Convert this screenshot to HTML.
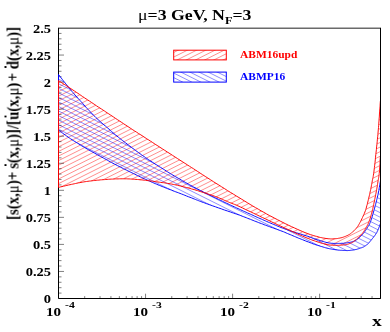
<!DOCTYPE html><html><head><meta charset="utf-8"><style>
html,body{margin:0;padding:0;background:#fff;}
#c{position:relative;width:390px;height:332px;overflow:hidden;background:#fff;font-family:"Liberation Serif",serif;font-weight:bold;color:#000;}
.t{position:absolute;white-space:nowrap;line-height:1;will-change:transform;}
.yl{font-size:12.5px;text-align:right;width:40px;left:10.8px;transform-origin:100% 50%;transform:scaleX(1.155);}
.xl{font-size:12.5px;transform-origin:0 50%;transform:scaleX(1.2);}
.xe{font-size:9px;transform-origin:0 50%;transform:scaleX(1.3);}
.ob{position:relative;display:inline-block;}.ob i{position:absolute;left:38%;top:-1.4px;width:2px;height:2px;background:#000;}
</style></head><body><div id="c">
<svg width="390" height="332" viewBox="0 0 390 332" style="position:absolute;left:0;top:0">
<defs><clipPath id="cr"><polygon points="58.5,80.6 59.6,81.3 61.1,82.3 62.9,83.5 64.9,84.7 67.0,86.1 69.1,87.5 71.1,88.8 72.9,90.0 74.6,91.1 76.2,92.2 77.9,93.3 79.5,94.4 81.1,95.5 82.7,96.6 84.3,97.7 86.0,98.8 87.7,99.9 89.5,101.1 91.3,102.3 93.1,103.5 94.9,104.7 96.6,105.9 98.3,107.0 100.0,108.1 101.6,109.1 103.0,110.1 104.5,111.0 105.9,112.0 107.3,112.9 108.8,113.9 110.3,114.9 112.0,116.0 113.8,117.2 115.7,118.5 117.7,119.8 119.7,121.1 121.8,122.5 123.8,123.9 125.9,125.2 128.0,126.6 130.1,128.0 132.2,129.4 134.4,130.8 136.6,132.2 138.7,133.6 140.9,134.9 143.0,136.3 145.0,137.6 146.9,138.9 148.8,140.0 150.6,141.2 152.3,142.3 154.1,143.5 155.9,144.7 157.9,145.9 160.0,147.3 162.3,148.8 164.8,150.4 167.3,152.0 170.0,153.7 172.6,155.4 175.2,157.1 177.7,158.7 180.0,160.2 182.1,161.5 184.1,162.8 185.9,163.9 187.7,165.1 189.4,166.2 191.3,167.4 193.3,168.6 195.4,170.0 197.7,171.5 200.1,173.1 202.6,174.7 205.2,176.4 207.9,178.1 210.6,179.8 213.3,181.6 216.0,183.3 218.8,185.0 221.6,186.8 224.5,188.6 227.4,190.5 230.3,192.3 233.3,194.1 236.2,195.9 239.0,197.6 241.8,199.3 244.6,201.0 247.3,202.7 250.1,204.4 252.8,206.0 255.5,207.6 258.3,209.2 261.0,210.8 263.8,212.3 266.5,213.9 269.2,215.4 272.0,216.8 274.8,218.3 277.5,219.7 280.2,221.1 283.0,222.5 285.8,223.9 288.7,225.3 291.6,226.7 294.6,228.0 297.4,229.3 300.1,230.5 302.7,231.6 305.0,232.6 307.1,233.4 309.0,234.1 310.7,234.7 312.3,235.2 313.8,235.7 315.2,236.1 316.6,236.4 318.0,236.8 319.3,237.2 320.6,237.5 321.8,237.7 322.9,238.0 323.9,238.1 325.0,238.3 326.0,238.5 327.0,238.6 328.0,238.7 328.9,238.8 329.8,238.8 330.6,238.9 331.5,238.9 332.3,238.9 333.1,238.8 334.0,238.8 334.9,238.7 335.8,238.7 336.6,238.6 337.5,238.5 338.4,238.3 339.2,238.2 340.1,238.0 341.0,237.8 341.9,237.6 342.8,237.3 343.7,237.0 344.7,236.6 345.6,236.3 346.4,235.9 347.2,235.6 348.0,235.2 348.7,234.8 349.3,234.5 349.9,234.1 350.5,233.7 351.0,233.3 351.6,232.9 352.1,232.4 352.6,232.0 353.1,231.5 353.6,231.1 354.1,230.6 354.6,230.1 355.1,229.6 355.6,229.1 356.0,228.6 356.5,228.0 356.9,227.4 357.4,226.8 357.8,226.3 358.2,225.7 358.6,225.0 359.0,224.3 359.5,223.4 360.0,222.5 360.6,221.4 361.2,220.2 361.8,218.9 362.5,217.5 363.1,216.1 363.8,214.7 364.4,213.3 364.9,212.0 365.4,210.7 365.8,209.5 366.2,208.2 366.5,207.0 366.8,205.7 367.2,204.5 367.5,203.2 367.8,202.0 368.1,200.8 368.4,199.5 368.7,198.2 369.0,197.0 369.3,195.8 369.6,194.5 369.9,193.2 370.1,192.0 370.4,190.8 370.7,189.5 370.9,188.2 371.2,187.0 371.4,185.8 371.6,184.5 371.9,183.2 372.1,182.0 372.3,180.8 372.5,179.7 372.7,178.7 373.0,177.6 373.2,176.5 373.4,175.2 373.6,173.7 373.9,172.0 374.1,170.0 374.4,167.7 374.7,165.2 375.0,162.6 375.3,159.9 375.5,157.2 375.8,154.6 376.1,152.0 376.4,149.5 376.6,146.9 376.9,144.4 377.2,141.8 377.4,139.3 377.7,136.8 377.9,134.4 378.1,132.0 378.3,129.7 378.5,127.5 378.7,125.3 378.8,123.1 379.0,121.0 379.1,119.0 379.3,117.0 379.4,115.0 379.5,113.0 379.7,111.0 379.8,108.9 380.0,106.9 380.1,105.1 380.2,103.4 380.3,102.1 380.4,101.0 380.4,156.0 380.3,157.3 380.2,159.0 380.1,161.1 380.0,163.4 379.9,165.7 379.7,168.0 379.6,170.2 379.4,172.0 379.2,173.5 379.1,174.9 378.9,176.2 378.7,177.4 378.5,178.5 378.3,179.6 378.1,180.8 377.9,182.0 377.7,183.2 377.5,184.5 377.3,185.8 377.1,187.0 376.9,188.2 376.7,189.5 376.4,190.8 376.2,192.0 376.0,193.2 375.7,194.5 375.5,195.8 375.2,197.0 375.0,198.2 374.7,199.5 374.5,200.8 374.2,202.0 373.9,203.3 373.7,204.5 373.4,205.8 373.1,207.1 372.9,208.3 372.6,209.6 372.3,210.8 372.0,212.0 371.7,213.2 371.3,214.4 371.0,215.7 370.6,216.9 370.3,218.0 369.9,219.2 369.5,220.2 369.2,221.2 368.9,222.1 368.5,222.9 368.2,223.7 367.9,224.4 367.5,225.0 367.2,225.7 366.9,226.3 366.5,227.0 366.1,227.7 365.8,228.3 365.4,229.0 365.0,229.6 364.6,230.2 364.2,230.8 363.8,231.4 363.4,232.0 363.0,232.6 362.6,233.1 362.2,233.6 361.7,234.1 361.3,234.6 360.9,235.1 360.4,235.5 360.0,236.0 359.6,236.4 359.1,236.9 358.7,237.3 358.3,237.7 357.8,238.1 357.4,238.4 356.9,238.8 356.5,239.2 356.1,239.6 355.6,240.0 355.2,240.3 354.8,240.7 354.3,241.0 353.9,241.4 353.5,241.7 353.0,242.0 352.5,242.3 352.0,242.5 351.5,242.8 351.0,243.0 350.5,243.2 350.0,243.4 349.5,243.6 349.0,243.8 348.5,244.0 348.0,244.1 347.5,244.3 347.1,244.4 346.6,244.5 346.1,244.6 345.5,244.7 345.0,244.8 344.4,244.9 343.8,244.9 343.2,245.0 342.6,245.1 342.0,245.1 341.3,245.1 340.7,245.2 340.0,245.2 339.3,245.2 338.6,245.3 337.9,245.3 337.1,245.3 336.4,245.3 335.6,245.3 334.8,245.3 334.0,245.3 333.2,245.3 332.4,245.2 331.6,245.2 330.8,245.1 329.9,245.1 329.0,244.9 328.0,244.8 327.0,244.6 325.9,244.4 324.8,244.1 323.6,243.7 322.3,243.4 321.0,243.0 319.7,242.6 318.4,242.2 317.0,241.7 315.7,241.3 314.4,240.8 313.1,240.4 311.8,239.9 310.3,239.4 308.8,238.7 307.0,238.0 305.0,237.2 302.7,236.2 300.2,235.1 297.5,233.9 294.7,232.6 291.8,231.3 288.8,229.9 285.9,228.5 283.0,227.2 280.1,225.9 277.2,224.5 274.2,223.1 271.2,221.7 268.2,220.2 265.3,218.8 262.4,217.5 259.5,216.1 256.6,214.7 253.7,213.3 250.8,211.9 247.9,210.6 245.2,209.3 242.6,208.0 240.2,206.9 238.0,205.9 236.2,205.1 234.6,204.4 233.2,203.9 232.0,203.4 230.9,203.0 229.8,202.6 228.6,202.1 227.4,201.6 226.1,201.0 224.8,200.5 223.6,199.9 222.3,199.3 221.0,198.8 219.7,198.2 218.4,197.6 217.0,197.1 215.6,196.6 214.1,196.0 212.6,195.5 211.1,195.0 209.6,194.5 208.0,194.0 206.5,193.5 205.0,193.0 203.5,192.5 202.0,192.0 200.5,191.6 199.0,191.1 197.5,190.6 196.0,190.2 194.5,189.7 193.0,189.3 191.5,188.9 189.9,188.4 188.3,188.0 186.7,187.6 185.1,187.2 183.6,186.8 182.0,186.4 180.5,186.0 179.0,185.7 177.5,185.3 176.1,185.0 174.7,184.7 173.2,184.4 171.8,184.1 170.4,183.9 169.0,183.6 167.6,183.4 166.2,183.1 164.8,182.9 163.5,182.7 162.1,182.6 160.7,182.4 159.4,182.2 158.0,182.0 156.6,181.8 155.2,181.6 153.9,181.4 152.5,181.2 151.1,181.0 149.8,180.8 148.4,180.7 147.0,180.5 145.6,180.3 144.2,180.2 142.9,180.0 141.5,179.9 140.1,179.8 138.8,179.6 137.4,179.5 136.0,179.4 134.6,179.3 133.2,179.2 131.9,179.1 130.5,179.0 129.1,178.9 127.8,178.9 126.4,178.8 125.0,178.8 123.6,178.8 122.2,178.8 120.9,178.8 119.5,178.8 118.1,178.9 116.8,178.9 115.4,178.9 114.0,179.0 112.6,179.1 111.2,179.1 109.9,179.2 108.5,179.3 107.1,179.4 105.8,179.5 104.4,179.6 103.0,179.7 101.6,179.8 100.2,179.9 98.9,180.1 97.5,180.2 96.1,180.3 94.8,180.5 93.4,180.6 92.0,180.8 90.6,181.0 89.2,181.1 87.9,181.3 86.5,181.5 85.1,181.7 83.8,181.9 82.4,182.2 81.0,182.4 79.6,182.7 78.3,182.9 76.9,183.2 75.5,183.5 74.2,183.8 72.8,184.1 71.4,184.4 70.0,184.7 68.5,185.0 66.9,185.4 65.2,185.8 63.6,186.2 62.0,186.6 60.6,186.9 59.4,187.2 58.5,187.4"/></clipPath><clipPath id="cb"><polygon points="58.5,74.5 59.0,75.1 59.7,76.0 60.4,77.0 61.3,78.1 62.2,79.3 63.2,80.5 64.1,81.7 65.0,82.8 65.8,83.9 66.7,84.9 67.5,86.0 68.4,87.1 69.3,88.2 70.2,89.3 71.1,90.4 72.0,91.5 73.0,92.6 73.9,93.7 74.9,94.9 75.9,96.0 77.0,97.1 78.0,98.3 79.0,99.4 80.0,100.5 81.0,101.6 82.0,102.7 83.0,103.8 83.9,104.9 84.9,106.0 85.9,107.2 87.0,108.3 88.0,109.4 89.1,110.5 90.2,111.7 91.3,112.9 92.4,114.0 93.5,115.2 94.7,116.3 95.8,117.5 97.0,118.6 98.2,119.7 99.3,120.7 100.5,121.8 101.7,122.8 102.8,123.8 104.0,124.9 105.3,125.9 106.5,127.0 107.8,128.1 109.0,129.2 110.3,130.4 111.6,131.5 112.9,132.7 114.3,133.8 115.6,135.0 117.0,136.1 118.4,137.2 119.8,138.4 121.2,139.5 122.7,140.6 124.1,141.8 125.6,142.9 127.1,144.0 128.5,145.1 129.9,146.2 131.4,147.3 132.8,148.4 134.3,149.5 135.7,150.6 137.2,151.6 138.6,152.7 140.0,153.7 141.4,154.7 142.8,155.7 144.2,156.6 145.5,157.6 146.9,158.5 148.3,159.5 149.6,160.4 151.0,161.3 152.4,162.2 153.8,163.1 155.1,164.0 156.5,164.8 157.9,165.7 159.2,166.6 160.6,167.4 162.0,168.3 163.4,169.2 164.8,170.0 166.1,170.9 167.5,171.8 168.9,172.7 170.2,173.5 171.6,174.4 173.0,175.2 174.4,176.0 175.8,176.8 177.1,177.6 178.5,178.4 179.9,179.2 181.2,180.0 182.6,180.8 184.0,181.6 185.4,182.4 186.8,183.2 188.1,183.9 189.5,184.7 190.9,185.5 192.2,186.2 193.6,187.0 195.0,187.7 196.4,188.4 197.8,189.1 199.1,189.8 200.5,190.6 201.9,191.2 203.2,191.9 204.6,192.6 206.0,193.3 207.4,194.0 208.8,194.6 210.1,195.3 211.5,196.0 212.9,196.6 214.2,197.3 215.6,197.9 217.0,198.6 218.4,199.3 219.8,199.9 221.2,200.6 222.6,201.3 223.9,202.0 225.3,202.6 226.7,203.3 228.0,203.9 229.3,204.5 230.5,205.1 231.8,205.7 233.0,206.3 234.2,206.8 235.5,207.4 236.7,208.0 238.0,208.6 239.3,209.2 240.7,209.8 242.1,210.5 243.4,211.1 244.8,211.7 246.2,212.3 247.6,213.0 249.0,213.6 250.4,214.2 251.8,214.8 253.1,215.4 254.5,216.1 255.9,216.7 257.2,217.3 258.6,217.9 260.0,218.5 261.4,219.1 262.7,219.7 264.1,220.3 265.5,220.9 266.8,221.5 268.2,222.1 269.6,222.7 271.0,223.3 272.4,223.9 273.8,224.5 275.3,225.1 276.7,225.7 278.1,226.3 279.6,226.9 281.0,227.5 282.4,228.0 283.8,228.5 285.2,229.0 286.6,229.5 287.9,230.0 289.3,230.5 290.7,231.0 292.1,231.4 293.5,231.9 294.9,232.4 296.4,232.8 297.8,233.2 299.3,233.7 300.7,234.1 302.2,234.5 303.6,235.0 305.0,235.4 306.4,235.9 307.8,236.3 309.2,236.8 310.5,237.3 311.9,237.8 313.3,238.3 314.6,238.7 316.0,239.2 317.4,239.7 318.8,240.1 320.3,240.6 321.8,241.1 323.2,241.5 324.5,241.9 325.8,242.3 327.0,242.6 328.1,242.8 329.1,243.0 330.0,243.1 330.9,243.2 331.7,243.3 332.5,243.3 333.2,243.4 334.0,243.4 334.7,243.4 335.4,243.5 336.0,243.5 336.6,243.5 337.2,243.4 337.8,243.4 338.4,243.4 339.0,243.4 339.6,243.4 340.2,243.4 340.9,243.4 341.5,243.3 342.1,243.3 342.8,243.3 343.4,243.3 344.0,243.2 344.6,243.1 345.3,243.1 345.9,243.0 346.6,242.9 347.2,242.8 347.8,242.7 348.4,242.6 349.0,242.5 349.6,242.4 350.1,242.3 350.6,242.2 351.1,242.1 351.6,241.9 352.1,241.8 352.5,241.7 353.0,241.5 353.5,241.3 353.9,241.2 354.3,241.0 354.8,240.8 355.2,240.6 355.6,240.4 356.0,240.1 356.5,239.8 357.0,239.5 357.5,239.1 358.0,238.7 358.5,238.3 359.0,237.9 359.5,237.4 360.0,237.0 360.5,236.5 361.0,236.0 361.5,235.5 362.0,234.9 362.6,234.3 363.1,233.7 363.6,233.2 364.0,232.6 364.5,232.0 364.9,231.4 365.3,230.9 365.7,230.3 366.1,229.8 366.4,229.2 366.8,228.7 367.1,228.1 367.5,227.5 367.8,226.9 368.2,226.4 368.5,225.9 368.8,225.4 369.2,224.8 369.5,224.1 369.8,223.4 370.2,222.5 370.6,221.4 371.0,220.2 371.4,218.9 371.9,217.6 372.3,216.1 372.7,214.7 373.1,213.3 373.5,212.0 373.9,210.7 374.2,209.5 374.6,208.2 374.9,207.0 375.2,205.7 375.6,204.5 375.9,203.2 376.2,202.0 376.5,200.8 376.8,199.5 377.1,198.3 377.4,197.1 377.7,195.8 378.0,194.6 378.2,193.3 378.5,192.0 378.8,190.6 379.0,189.1 379.3,187.5 379.6,185.9 379.8,184.4 380.1,183.0 380.3,181.9 380.4,181.0 380.4,223.5 380.3,223.9 380.1,224.4 379.9,225.0 379.6,225.7 379.4,226.5 379.1,227.2 378.8,227.9 378.6,228.5 378.4,229.1 378.1,229.7 377.9,230.2 377.6,230.8 377.4,231.3 377.1,231.8 376.9,232.3 376.6,232.8 376.3,233.2 376.1,233.7 375.8,234.0 375.6,234.4 375.3,234.8 375.1,235.1 374.8,235.5 374.5,235.9 374.2,236.3 373.9,236.7 373.6,237.0 373.4,237.4 373.0,237.8 372.7,238.2 372.4,238.6 372.0,239.1 371.6,239.6 371.1,240.2 370.6,240.8 370.1,241.4 369.6,242.0 369.2,242.5 368.7,243.1 368.3,243.5 367.9,243.9 367.6,244.2 367.3,244.4 367.1,244.6 366.8,244.8 366.6,245.0 366.3,245.2 366.0,245.4 365.7,245.6 365.4,245.8 365.1,246.0 364.8,246.2 364.4,246.4 364.1,246.6 363.8,246.8 363.4,247.0 363.0,247.2 362.6,247.3 362.2,247.5 361.8,247.6 361.4,247.8 360.9,247.9 360.5,248.0 360.0,248.2 359.5,248.4 359.1,248.5 358.6,248.7 358.2,248.9 357.7,249.0 357.2,249.2 356.6,249.4 356.0,249.5 355.3,249.6 354.6,249.8 353.9,249.9 353.1,250.0 352.3,250.1 351.5,250.2 350.7,250.3 350.0,250.4 349.3,250.5 348.7,250.5 348.0,250.5 347.4,250.6 346.8,250.6 346.1,250.5 345.3,250.5 344.5,250.5 343.6,250.5 342.6,250.4 341.6,250.3 340.5,250.3 339.4,250.2 338.2,250.1 337.1,249.9 336.0,249.8 334.9,249.6 333.8,249.5 332.7,249.3 331.7,249.1 330.5,248.9 329.4,248.7 328.2,248.4 327.0,248.1 325.7,247.8 324.4,247.4 323.1,247.0 321.7,246.6 320.3,246.2 318.9,245.7 317.4,245.3 316.0,244.8 314.5,244.3 313.0,243.8 311.5,243.2 310.0,242.6 308.5,242.0 307.0,241.5 305.5,240.9 304.0,240.3 302.6,239.7 301.2,239.2 299.8,238.6 298.4,238.1 297.1,237.5 295.7,236.9 294.4,236.4 293.0,235.8 291.6,235.2 290.2,234.6 288.9,234.1 287.5,233.5 286.1,232.9 284.8,232.3 283.4,231.7 282.0,231.2 280.6,230.7 279.2,230.2 277.9,229.7 276.5,229.2 275.1,228.7 273.8,228.2 272.4,227.7 271.0,227.2 269.6,226.7 268.2,226.2 266.9,225.7 265.5,225.2 264.1,224.7 262.8,224.1 261.4,223.6 260.0,223.1 258.6,222.6 257.2,222.0 255.9,221.5 254.5,221.0 253.1,220.4 251.8,219.9 250.4,219.3 249.0,218.8 247.6,218.3 246.3,217.7 244.9,217.2 243.6,216.7 242.2,216.2 240.8,215.6 239.4,215.1 238.0,214.6 236.5,214.1 235.1,213.6 233.6,213.1 232.1,212.6 230.5,212.0 229.0,211.5 227.5,211.0 226.0,210.5 224.5,210.0 223.0,209.5 221.5,208.9 220.0,208.4 218.5,207.9 217.0,207.4 215.5,206.8 214.0,206.3 212.5,205.8 210.9,205.2 209.4,204.7 207.8,204.1 206.3,203.6 204.8,203.0 203.4,202.5 202.0,202.0 200.8,201.5 199.6,201.1 198.6,200.7 197.6,200.3 196.5,199.9 195.5,199.5 194.3,199.0 193.0,198.5 191.6,197.9 190.0,197.3 188.3,196.7 186.6,196.0 184.9,195.3 183.2,194.6 181.6,194.0 180.0,193.4 178.5,192.8 177.1,192.3 175.7,191.8 174.4,191.3 173.0,190.8 171.7,190.2 170.4,189.7 169.0,189.2 167.6,188.7 166.2,188.1 164.9,187.6 163.5,187.0 162.1,186.5 160.8,185.9 159.4,185.4 158.0,184.8 156.6,184.2 155.2,183.6 153.9,183.0 152.5,182.5 151.1,181.8 149.8,181.2 148.4,180.6 147.0,180.0 145.6,179.4 144.2,178.7 142.9,178.1 141.5,177.4 140.1,176.8 138.8,176.1 137.4,175.5 136.0,174.8 134.6,174.1 133.3,173.5 131.9,172.8 130.6,172.2 129.2,171.5 127.8,170.8 126.4,170.1 125.0,169.4 123.5,168.7 122.0,167.9 120.5,167.2 119.0,166.4 117.5,165.6 116.0,164.8 114.5,164.1 113.0,163.3 111.6,162.5 110.2,161.8 108.8,161.0 107.5,160.3 106.2,159.5 104.8,158.8 103.4,158.0 102.0,157.2 100.5,156.4 99.0,155.6 97.5,154.8 96.0,153.9 94.5,153.1 93.0,152.3 91.5,151.4 90.0,150.6 88.6,149.8 87.2,149.0 85.8,148.2 84.4,147.4 83.1,146.6 81.7,145.8 80.4,144.9 79.0,144.1 77.6,143.2 76.2,142.4 74.8,141.5 73.4,140.6 72.0,139.7 70.6,138.8 69.3,137.9 68.0,137.0 66.7,136.1 65.3,135.1 63.9,134.1 62.6,133.1 61.3,132.2 60.2,131.4 59.2,130.7 58.5,130.2"/></clipPath>
<clipPath id="lr"><rect x="173.7" y="50.2" width="52.6" height="9.7"/></clipPath><clipPath id="lb"><rect x="173.7" y="72.1" width="52.6" height="10"/></clipPath></defs>
<path d="M40.0 4.30L400.0 -175.70M40.0 8.90L400.0 -171.10M40.0 13.50L400.0 -166.50M40.0 18.10L400.0 -161.90M40.0 22.70L400.0 -157.30M40.0 27.30L400.0 -152.70M40.0 31.90L400.0 -148.10M40.0 36.50L400.0 -143.50M40.0 41.10L400.0 -138.90M40.0 45.70L400.0 -134.30M40.0 50.30L400.0 -129.70M40.0 54.90L400.0 -125.10M40.0 59.50L400.0 -120.50M40.0 64.10L400.0 -115.90M40.0 68.70L400.0 -111.30M40.0 73.30L400.0 -106.70M40.0 77.90L400.0 -102.10M40.0 82.50L400.0 -97.50M40.0 87.10L400.0 -92.90M40.0 91.70L400.0 -88.30M40.0 96.30L400.0 -83.70M40.0 100.90L400.0 -79.10M40.0 105.50L400.0 -74.50M40.0 110.10L400.0 -69.90M40.0 114.70L400.0 -65.30M40.0 119.30L400.0 -60.70M40.0 123.90L400.0 -56.10M40.0 128.50L400.0 -51.50M40.0 133.10L400.0 -46.90M40.0 137.70L400.0 -42.30M40.0 142.30L400.0 -37.70M40.0 146.90L400.0 -33.10M40.0 151.50L400.0 -28.50M40.0 156.10L400.0 -23.90M40.0 160.70L400.0 -19.30M40.0 165.30L400.0 -14.70M40.0 169.90L400.0 -10.10M40.0 174.50L400.0 -5.50M40.0 179.10L400.0 -0.90M40.0 183.70L400.0 3.70M40.0 188.30L400.0 8.30M40.0 192.90L400.0 12.90M40.0 197.50L400.0 17.50M40.0 202.10L400.0 22.10M40.0 206.70L400.0 26.70M40.0 211.30L400.0 31.30M40.0 215.90L400.0 35.90M40.0 220.50L400.0 40.50M40.0 225.10L400.0 45.10M40.0 229.70L400.0 49.70M40.0 234.30L400.0 54.30M40.0 238.90L400.0 58.90M40.0 243.50L400.0 63.50M40.0 248.10L400.0 68.10M40.0 252.70L400.0 72.70M40.0 257.30L400.0 77.30M40.0 261.90L400.0 81.90M40.0 266.50L400.0 86.50M40.0 271.10L400.0 91.10M40.0 275.70L400.0 95.70M40.0 280.30L400.0 100.30M40.0 284.90L400.0 104.90M40.0 289.50L400.0 109.50M40.0 294.10L400.0 114.10M40.0 298.70L400.0 118.70M40.0 303.30L400.0 123.30M40.0 307.90L400.0 127.90M40.0 312.50L400.0 132.50M40.0 317.10L400.0 137.10M40.0 321.70L400.0 141.70M40.0 326.30L400.0 146.30M40.0 330.90L400.0 150.90M40.0 335.50L400.0 155.50M40.0 340.10L400.0 160.10M40.0 344.70L400.0 164.70M40.0 349.30L400.0 169.30M40.0 353.90L400.0 173.90M40.0 358.50L400.0 178.50M40.0 363.10L400.0 183.10M40.0 367.70L400.0 187.70M40.0 372.30L400.0 192.30M40.0 376.90L400.0 196.90M40.0 381.50L400.0 201.50M40.0 386.10L400.0 206.10M40.0 390.70L400.0 210.70M40.0 395.30L400.0 215.30M40.0 399.90L400.0 219.90M40.0 404.50L400.0 224.50M40.0 409.10L400.0 229.10M40.0 413.70L400.0 233.70M40.0 418.30L400.0 238.30M40.0 422.90L400.0 242.90M40.0 427.50L400.0 247.50M40.0 432.10L400.0 252.10M40.0 436.70L400.0 256.70M40.0 441.30L400.0 261.30M40.0 445.90L400.0 265.90M40.0 450.50L400.0 270.50M40.0 455.10L400.0 275.10M40.0 459.70L400.0 279.70M40.0 464.30L400.0 284.30M40.0 468.90L400.0 288.90M40.0 473.50L400.0 293.50M40.0 478.10L400.0 298.10M40.0 482.70L400.0 302.70M40.0 487.30L400.0 307.30M40.0 491.90L400.0 311.90M40.0 496.50L400.0 316.50M40.0 501.10L400.0 321.10M40.0 505.70L400.0 325.70M40.0 510.30L400.0 330.30M40.0 514.90L400.0 334.90M40.0 519.50L400.0 339.50" stroke="#ff0000" stroke-width="0.45" fill="none" clip-path="url(#cr)"/>
<path d="M40.0 -175.80L400.0 4.20M40.0 -171.25L400.0 8.75M40.0 -166.70L400.0 13.30M40.0 -162.15L400.0 17.85M40.0 -157.60L400.0 22.40M40.0 -153.05L400.0 26.95M40.0 -148.50L400.0 31.50M40.0 -143.95L400.0 36.05M40.0 -139.40L400.0 40.60M40.0 -134.85L400.0 45.15M40.0 -130.30L400.0 49.70M40.0 -125.75L400.0 54.25M40.0 -121.20L400.0 58.80M40.0 -116.65L400.0 63.35M40.0 -112.10L400.0 67.90M40.0 -107.55L400.0 72.45M40.0 -103.00L400.0 77.00M40.0 -98.45L400.0 81.55M40.0 -93.90L400.0 86.10M40.0 -89.35L400.0 90.65M40.0 -84.80L400.0 95.20M40.0 -80.25L400.0 99.75M40.0 -75.70L400.0 104.30M40.0 -71.15L400.0 108.85M40.0 -66.60L400.0 113.40M40.0 -62.05L400.0 117.95M40.0 -57.50L400.0 122.50M40.0 -52.95L400.0 127.05M40.0 -48.40L400.0 131.60M40.0 -43.85L400.0 136.15M40.0 -39.30L400.0 140.70M40.0 -34.75L400.0 145.25M40.0 -30.20L400.0 149.80M40.0 -25.65L400.0 154.35M40.0 -21.10L400.0 158.90M40.0 -16.55L400.0 163.45M40.0 -12.00L400.0 168.00M40.0 -7.45L400.0 172.55M40.0 -2.90L400.0 177.10M40.0 1.65L400.0 181.65M40.0 6.20L400.0 186.20M40.0 10.75L400.0 190.75M40.0 15.30L400.0 195.30M40.0 19.85L400.0 199.85M40.0 24.40L400.0 204.40M40.0 28.95L400.0 208.95M40.0 33.50L400.0 213.50M40.0 38.05L400.0 218.05M40.0 42.60L400.0 222.60M40.0 47.15L400.0 227.15M40.0 51.70L400.0 231.70M40.0 56.25L400.0 236.25M40.0 60.80L400.0 240.80M40.0 65.35L400.0 245.35M40.0 69.90L400.0 249.90M40.0 74.45L400.0 254.45M40.0 79.00L400.0 259.00M40.0 83.55L400.0 263.55M40.0 88.10L400.0 268.10M40.0 92.65L400.0 272.65M40.0 97.20L400.0 277.20M40.0 101.75L400.0 281.75M40.0 106.30L400.0 286.30M40.0 110.85L400.0 290.85M40.0 115.40L400.0 295.40M40.0 119.95L400.0 299.95M40.0 124.50L400.0 304.50M40.0 129.05L400.0 309.05M40.0 133.60L400.0 313.60M40.0 138.15L400.0 318.15M40.0 142.70L400.0 322.70M40.0 147.25L400.0 327.25M40.0 151.80L400.0 331.80M40.0 156.35L400.0 336.35M40.0 160.90L400.0 340.90M40.0 165.45L400.0 345.45M40.0 170.00L400.0 350.00M40.0 174.55L400.0 354.55M40.0 179.10L400.0 359.10M40.0 183.65L400.0 363.65M40.0 188.20L400.0 368.20M40.0 192.75L400.0 372.75M40.0 197.30L400.0 377.30M40.0 201.85L400.0 381.85M40.0 206.40L400.0 386.40M40.0 210.95L400.0 390.95M40.0 215.50L400.0 395.50M40.0 220.05L400.0 400.05M40.0 224.60L400.0 404.60M40.0 229.15L400.0 409.15M40.0 233.70L400.0 413.70M40.0 238.25L400.0 418.25M40.0 242.80L400.0 422.80M40.0 247.35L400.0 427.35M40.0 251.90L400.0 431.90M40.0 256.45L400.0 436.45M40.0 261.00L400.0 441.00M40.0 265.55L400.0 445.55M40.0 270.10L400.0 450.10M40.0 274.65L400.0 454.65M40.0 279.20L400.0 459.20M40.0 283.75L400.0 463.75M40.0 288.30L400.0 468.30M40.0 292.85L400.0 472.85M40.0 297.40L400.0 477.40M40.0 301.95L400.0 481.95M40.0 306.50L400.0 486.50M40.0 311.05L400.0 491.05M40.0 315.60L400.0 495.60M40.0 320.15L400.0 500.15M40.0 324.70L400.0 504.70M40.0 329.25L400.0 509.25M40.0 333.80L400.0 513.80M40.0 338.35L400.0 518.35" stroke="#0000ff" stroke-width="0.45" fill="none" clip-path="url(#cb)"/>
<path d="M58.5 293.09h3M58.5 287.68h3M58.5 282.27h3M58.5 276.86h3M58.5 271.45h5.5M58.5 266.04h3M58.5 260.63h3M58.5 255.22h3M58.5 249.81h3M58.5 244.40h5.5M58.5 238.99h3M58.5 233.58h3M58.5 228.17h3M58.5 222.76h3M58.5 217.35h5.5M58.5 211.94h3M58.5 206.53h3M58.5 201.12h3M58.5 195.71h3M58.5 190.30h5.5M58.5 184.89h3M58.5 179.48h3M58.5 174.07h3M58.5 168.66h3M58.5 163.25h5.5M58.5 157.84h3M58.5 152.43h3M58.5 147.02h3M58.5 141.61h3M58.5 136.20h5.5M58.5 130.79h3M58.5 125.38h3M58.5 119.97h3M58.5 114.56h3M58.5 109.15h5.5M58.5 103.74h3M58.5 98.33h3M58.5 92.92h3M58.5 87.51h3M58.5 82.10h5.5M58.5 76.69h3M58.5 71.28h3M58.5 65.87h3M58.5 60.46h3M58.5 55.05h5.5M58.5 49.64h3M58.5 44.23h3M58.5 38.82h3M58.5 33.41h3M58.50 298.5v-4.8M84.70 298.5v-2.4M100.03 298.5v-2.4M110.91 298.5v-2.4M119.35 298.5v-2.4M126.24 298.5v-2.4M132.07 298.5v-2.4M137.11 298.5v-2.4M141.57 298.5v-2.4M145.55 298.5v-4.8M171.75 298.5v-2.4M187.08 298.5v-2.4M197.96 298.5v-2.4M206.40 298.5v-2.4M213.29 298.5v-2.4M219.12 298.5v-2.4M224.16 298.5v-2.4M228.62 298.5v-2.4M232.60 298.5v-4.8M258.80 298.5v-2.4M274.13 298.5v-2.4M285.01 298.5v-2.4M293.45 298.5v-2.4M300.34 298.5v-2.4M306.17 298.5v-2.4M311.21 298.5v-2.4M315.67 298.5v-2.4M319.65 298.5v-4.8M345.85 298.5v-2.4M361.18 298.5v-2.4M372.06 298.5v-2.4M380.50 298.5v-2.4" stroke="#000" stroke-width="0.5" fill="none"/>
<path d="M58.5 28.3H380.5" stroke="#6a6a6a" stroke-width="1.4" fill="none"/>
<path d="M58.5 27.8V298.5H380.5V27.8" stroke="#000" stroke-width="1" fill="none" stroke-linejoin="miter"/>
<polyline points="380.4,181.0 380.3,181.9 380.1,183.0 379.8,184.4 379.6,185.9 379.3,187.5 379.0,189.1 378.8,190.6 378.5,192.0 378.2,193.3 378.0,194.6 377.7,195.8 377.4,197.1 377.1,198.3 376.8,199.5 376.5,200.8 376.2,202.0 375.9,203.2 375.6,204.5 375.2,205.7 374.9,207.0 374.6,208.2 374.2,209.5 373.9,210.7 373.5,212.0 373.1,213.3 372.7,214.7 372.3,216.1 371.9,217.6 371.4,218.9 371.0,220.2 370.6,221.4 370.2,222.5 369.8,223.4 369.5,224.1 369.2,224.8 368.8,225.4 368.5,225.9 368.2,226.4 367.8,226.9 367.5,227.5 367.1,228.1 366.8,228.7 366.4,229.2 366.1,229.8 365.7,230.3 365.3,230.9 364.9,231.4 364.5,232.0 364.0,232.6 363.6,233.2 363.1,233.7 362.6,234.3 362.0,234.9 361.5,235.5 361.0,236.0 360.5,236.5 360.0,237.0 359.5,237.4 359.0,237.9 358.5,238.3 358.0,238.7 357.5,239.1 357.0,239.5 356.5,239.8 356.0,240.1 355.6,240.4 355.2,240.6 354.8,240.8 354.3,241.0 353.9,241.2 353.5,241.3 353.0,241.5 352.5,241.7 352.1,241.8 351.6,241.9 351.1,242.1 350.6,242.2 350.1,242.3 349.6,242.4 349.0,242.5 348.4,242.6 347.8,242.7 347.2,242.8 346.6,242.9 345.9,243.0 345.3,243.1 344.6,243.1 344.0,243.2 343.4,243.3 342.8,243.3 342.1,243.3 341.5,243.3 340.9,243.4 340.2,243.4 339.6,243.4 339.0,243.4 338.4,243.4 337.8,243.4 337.2,243.4 336.6,243.5 336.0,243.5 335.4,243.5 334.7,243.4 334.0,243.4 333.2,243.4 332.5,243.3 331.7,243.3 330.9,243.2 330.0,243.1 329.1,243.0 328.1,242.8 327.0,242.6 325.8,242.3 324.5,241.9 323.2,241.5 321.8,241.1 320.3,240.6 318.8,240.1 317.4,239.7 316.0,239.2 314.6,238.7 313.3,238.3 311.9,237.8 310.5,237.3 309.2,236.8 307.8,236.3 306.4,235.9 305.0,235.4 303.6,235.0 302.2,234.5 300.7,234.1 299.3,233.7 297.8,233.2 296.4,232.8 294.9,232.4 293.5,231.9 292.1,231.4 290.7,231.0 289.3,230.5 287.9,230.0 286.6,229.5 285.2,229.0 283.8,228.5 282.4,228.0 281.0,227.5 279.6,226.9 278.1,226.3 276.7,225.7 275.3,225.1 273.8,224.5 272.4,223.9 271.0,223.3 269.6,222.7 268.2,222.1 266.8,221.5 265.5,220.9 264.1,220.3 262.7,219.7 261.4,219.1 260.0,218.5 258.6,217.9 257.2,217.3 255.9,216.7 254.5,216.1 253.1,215.4 251.8,214.8 250.4,214.2 249.0,213.6 247.6,213.0 246.2,212.3 244.8,211.7 243.4,211.1 242.1,210.5 240.7,209.8 239.3,209.2 238.0,208.6 236.7,208.0 235.5,207.4 234.2,206.8 233.0,206.3 231.8,205.7 230.5,205.1 229.3,204.5 228.0,203.9 226.7,203.3 225.3,202.6 223.9,202.0 222.6,201.3 221.2,200.6 219.8,199.9 218.4,199.3 217.0,198.6 215.6,197.9 214.2,197.3 212.9,196.6 211.5,196.0 210.1,195.3 208.8,194.6 207.4,194.0 206.0,193.3 204.6,192.6 203.2,191.9 201.9,191.2 200.5,190.6 199.1,189.8 197.8,189.1 196.4,188.4 195.0,187.7 193.6,187.0 192.2,186.2 190.9,185.5 189.5,184.7 188.1,183.9 186.8,183.2 185.4,182.4 184.0,181.6 182.6,180.8 181.2,180.0 179.9,179.2 178.5,178.4 177.1,177.6 175.8,176.8 174.4,176.0 173.0,175.2 171.6,174.4 170.2,173.5 168.9,172.7 167.5,171.8 166.1,170.9 164.8,170.0 163.4,169.2 162.0,168.3 160.6,167.4 159.2,166.6 157.9,165.7 156.5,164.8 155.1,164.0 153.8,163.1 152.4,162.2 151.0,161.3 149.6,160.4 148.3,159.5 146.9,158.5 145.5,157.6 144.2,156.6 142.8,155.7 141.4,154.7 140.0,153.7 138.6,152.7 137.2,151.6 135.7,150.6 134.3,149.5 132.8,148.4 131.4,147.3 129.9,146.2 128.5,145.1 127.1,144.0 125.6,142.9 124.1,141.8 122.7,140.6 121.2,139.5 119.8,138.4 118.4,137.2 117.0,136.1 115.6,135.0 114.3,133.8 112.9,132.7 111.6,131.5 110.3,130.4 109.0,129.2 107.8,128.1 106.5,127.0 105.3,125.9 104.0,124.9 102.8,123.8 101.7,122.8 100.5,121.8 99.3,120.7 98.2,119.7 97.0,118.6 95.8,117.5 94.7,116.3 93.5,115.2 92.4,114.0 91.3,112.9 90.2,111.7 89.1,110.5 88.0,109.4 87.0,108.3 85.9,107.2 84.9,106.0 83.9,104.9 83.0,103.8 82.0,102.7 81.0,101.6 80.0,100.5 79.0,99.4 78.0,98.3 77.0,97.1 75.9,96.0 74.9,94.9 73.9,93.7 73.0,92.6 72.0,91.5 71.1,90.4 70.2,89.3 69.3,88.2 68.4,87.1 67.5,86.0 66.7,84.9 65.8,83.9 65.0,82.8 64.1,81.7 63.2,80.5 62.2,79.3 61.3,78.1 60.4,77.0 59.7,76.0 59.0,75.1 58.5,74.5 58.5,130.2 59.2,130.7 60.2,131.4 61.3,132.2 62.6,133.1 63.9,134.1 65.3,135.1 66.7,136.1 68.0,137.0 69.3,137.9 70.6,138.8 72.0,139.7 73.4,140.6 74.8,141.5 76.2,142.4 77.6,143.2 79.0,144.1 80.4,144.9 81.7,145.8 83.1,146.6 84.4,147.4 85.8,148.2 87.2,149.0 88.6,149.8 90.0,150.6 91.5,151.4 93.0,152.3 94.5,153.1 96.0,153.9 97.5,154.8 99.0,155.6 100.5,156.4 102.0,157.2 103.4,158.0 104.8,158.8 106.2,159.5 107.5,160.3 108.8,161.0 110.2,161.8 111.6,162.5 113.0,163.3 114.5,164.1 116.0,164.8 117.5,165.6 119.0,166.4 120.5,167.2 122.0,167.9 123.5,168.7 125.0,169.4 126.4,170.1 127.8,170.8 129.2,171.5 130.6,172.2 131.9,172.8 133.3,173.5 134.6,174.1 136.0,174.8 137.4,175.5 138.8,176.1 140.1,176.8 141.5,177.4 142.9,178.1 144.2,178.7 145.6,179.4 147.0,180.0 148.4,180.6 149.8,181.2 151.1,181.8 152.5,182.5 153.9,183.0 155.2,183.6 156.6,184.2 158.0,184.8 159.4,185.4 160.8,185.9 162.1,186.5 163.5,187.0 164.9,187.6 166.2,188.1 167.6,188.7 169.0,189.2 170.4,189.7 171.7,190.2 173.0,190.8 174.4,191.3 175.7,191.8 177.1,192.3 178.5,192.8 180.0,193.4 181.6,194.0 183.2,194.6 184.9,195.3 186.6,196.0 188.3,196.7 190.0,197.3 191.6,197.9 193.0,198.5 194.3,199.0 195.5,199.5 196.5,199.9 197.6,200.3 198.6,200.7 199.6,201.1 200.8,201.5 202.0,202.0 203.4,202.5 204.8,203.0 206.3,203.6 207.8,204.1 209.4,204.7 210.9,205.2 212.5,205.8 214.0,206.3 215.5,206.8 217.0,207.4 218.5,207.9 220.0,208.4 221.5,208.9 223.0,209.5 224.5,210.0 226.0,210.5 227.5,211.0 229.0,211.5 230.5,212.0 232.1,212.6 233.6,213.1 235.1,213.6 236.5,214.1 238.0,214.6 239.4,215.1 240.8,215.6 242.2,216.2 243.6,216.7 244.9,217.2 246.3,217.7 247.6,218.3 249.0,218.8 250.4,219.3 251.8,219.9 253.1,220.4 254.5,221.0 255.9,221.5 257.2,222.0 258.6,222.6 260.0,223.1 261.4,223.6 262.8,224.1 264.1,224.7 265.5,225.2 266.9,225.7 268.2,226.2 269.6,226.7 271.0,227.2 272.4,227.7 273.8,228.2 275.1,228.7 276.5,229.2 277.9,229.7 279.2,230.2 280.6,230.7 282.0,231.2 283.4,231.7 284.8,232.3 286.1,232.9 287.5,233.5 288.9,234.1 290.2,234.6 291.6,235.2 293.0,235.8 294.4,236.4 295.7,236.9 297.1,237.5 298.4,238.1 299.8,238.6 301.2,239.2 302.6,239.7 304.0,240.3 305.5,240.9 307.0,241.5 308.5,242.0 310.0,242.6 311.5,243.2 313.0,243.8 314.5,244.3 316.0,244.8 317.4,245.3 318.9,245.7 320.3,246.2 321.7,246.6 323.1,247.0 324.4,247.4 325.7,247.8 327.0,248.1 328.2,248.4 329.4,248.7 330.5,248.9 331.7,249.1 332.7,249.3 333.8,249.5 334.9,249.6 336.0,249.8 337.1,249.9 338.2,250.1 339.4,250.2 340.5,250.3 341.6,250.3 342.6,250.4 343.6,250.5 344.5,250.5 345.3,250.5 346.1,250.5 346.8,250.6 347.4,250.6 348.0,250.5 348.7,250.5 349.3,250.5 350.0,250.4 350.7,250.3 351.5,250.2 352.3,250.1 353.1,250.0 353.9,249.9 354.6,249.8 355.3,249.6 356.0,249.5 356.6,249.4 357.2,249.2 357.7,249.0 358.2,248.9 358.6,248.7 359.1,248.5 359.5,248.4 360.0,248.2 360.5,248.0 360.9,247.9 361.4,247.8 361.8,247.6 362.2,247.5 362.6,247.3 363.0,247.2 363.4,247.0 363.8,246.8 364.1,246.6 364.4,246.4 364.8,246.2 365.1,246.0 365.4,245.8 365.7,245.6 366.0,245.4 366.3,245.2 366.6,245.0 366.8,244.8 367.1,244.6 367.3,244.4 367.6,244.2 367.9,243.9 368.3,243.5 368.7,243.1 369.2,242.5 369.6,242.0 370.1,241.4 370.6,240.8 371.1,240.2 371.6,239.6 372.0,239.1 372.4,238.6 372.7,238.2 373.0,237.8 373.4,237.4 373.6,237.0 373.9,236.7 374.2,236.3 374.5,235.9 374.8,235.5 375.1,235.1 375.3,234.8 375.6,234.4 375.8,234.0 376.1,233.7 376.3,233.2 376.6,232.8 376.9,232.3 377.1,231.8 377.4,231.3 377.6,230.8 377.9,230.2 378.1,229.7 378.4,229.1 378.6,228.5 378.8,227.9 379.1,227.2 379.4,226.5 379.6,225.7 379.9,225.0 380.1,224.4 380.3,223.9 380.4,223.5" fill="none" stroke="#0000ff" stroke-width="0.95" stroke-linejoin="round"/>
<polyline points="380.4,101.0 380.3,102.1 380.2,103.4 380.1,105.1 380.0,106.9 379.8,108.9 379.7,111.0 379.5,113.0 379.4,115.0 379.3,117.0 379.1,119.0 379.0,121.0 378.8,123.1 378.7,125.3 378.5,127.5 378.3,129.7 378.1,132.0 377.9,134.4 377.7,136.8 377.4,139.3 377.2,141.8 376.9,144.4 376.6,146.9 376.4,149.5 376.1,152.0 375.8,154.6 375.5,157.2 375.3,159.9 375.0,162.6 374.7,165.2 374.4,167.7 374.1,170.0 373.9,172.0 373.6,173.7 373.4,175.2 373.2,176.5 373.0,177.6 372.7,178.7 372.5,179.7 372.3,180.8 372.1,182.0 371.9,183.2 371.6,184.5 371.4,185.8 371.2,187.0 370.9,188.2 370.7,189.5 370.4,190.8 370.1,192.0 369.9,193.2 369.6,194.5 369.3,195.8 369.0,197.0 368.7,198.2 368.4,199.5 368.1,200.8 367.8,202.0 367.5,203.2 367.2,204.5 366.8,205.7 366.5,207.0 366.2,208.2 365.8,209.5 365.4,210.7 364.9,212.0 364.4,213.3 363.8,214.7 363.1,216.1 362.5,217.5 361.8,218.9 361.2,220.2 360.6,221.4 360.0,222.5 359.5,223.4 359.0,224.3 358.6,225.0 358.2,225.7 357.8,226.3 357.4,226.8 356.9,227.4 356.5,228.0 356.0,228.6 355.6,229.1 355.1,229.6 354.6,230.1 354.1,230.6 353.6,231.1 353.1,231.5 352.6,232.0 352.1,232.4 351.6,232.9 351.0,233.3 350.5,233.7 349.9,234.1 349.3,234.5 348.7,234.8 348.0,235.2 347.2,235.6 346.4,235.9 345.6,236.3 344.7,236.6 343.7,237.0 342.8,237.3 341.9,237.6 341.0,237.8 340.1,238.0 339.2,238.2 338.4,238.3 337.5,238.5 336.6,238.6 335.8,238.7 334.9,238.7 334.0,238.8 333.1,238.8 332.3,238.9 331.5,238.9 330.6,238.9 329.8,238.8 328.9,238.8 328.0,238.7 327.0,238.6 326.0,238.5 325.0,238.3 323.9,238.1 322.9,238.0 321.8,237.7 320.6,237.5 319.3,237.2 318.0,236.8 316.6,236.4 315.2,236.1 313.8,235.7 312.3,235.2 310.7,234.7 309.0,234.1 307.1,233.4 305.0,232.6 302.7,231.6 300.1,230.5 297.4,229.3 294.6,228.0 291.6,226.7 288.7,225.3 285.8,223.9 283.0,222.5 280.2,221.1 277.5,219.7 274.8,218.3 272.0,216.8 269.2,215.4 266.5,213.9 263.8,212.3 261.0,210.8 258.3,209.2 255.5,207.6 252.8,206.0 250.1,204.4 247.3,202.7 244.6,201.0 241.8,199.3 239.0,197.6 236.2,195.9 233.3,194.1 230.3,192.3 227.4,190.5 224.5,188.6 221.6,186.8 218.8,185.0 216.0,183.3 213.3,181.6 210.6,179.8 207.9,178.1 205.2,176.4 202.6,174.7 200.1,173.1 197.7,171.5 195.4,170.0 193.3,168.6 191.3,167.4 189.4,166.2 187.7,165.1 185.9,163.9 184.1,162.8 182.1,161.5 180.0,160.2 177.7,158.7 175.2,157.1 172.6,155.4 170.0,153.7 167.3,152.0 164.8,150.4 162.3,148.8 160.0,147.3 157.9,145.9 155.9,144.7 154.1,143.5 152.3,142.3 150.6,141.2 148.8,140.0 146.9,138.9 145.0,137.6 143.0,136.3 140.9,134.9 138.7,133.6 136.6,132.2 134.4,130.8 132.2,129.4 130.1,128.0 128.0,126.6 125.9,125.2 123.8,123.9 121.8,122.5 119.7,121.1 117.7,119.8 115.7,118.5 113.8,117.2 112.0,116.0 110.3,114.9 108.8,113.9 107.3,112.9 105.9,112.0 104.5,111.0 103.0,110.1 101.6,109.1 100.0,108.1 98.3,107.0 96.6,105.9 94.9,104.7 93.1,103.5 91.3,102.3 89.5,101.1 87.7,99.9 86.0,98.8 84.3,97.7 82.7,96.6 81.1,95.5 79.5,94.4 77.9,93.3 76.2,92.2 74.6,91.1 72.9,90.0 71.1,88.8 69.1,87.5 67.0,86.1 64.9,84.7 62.9,83.5 61.1,82.3 59.6,81.3 58.5,80.6 58.5,187.4 59.4,187.2 60.6,186.9 62.0,186.6 63.6,186.2 65.2,185.8 66.9,185.4 68.5,185.0 70.0,184.7 71.4,184.4 72.8,184.1 74.2,183.8 75.5,183.5 76.9,183.2 78.3,182.9 79.6,182.7 81.0,182.4 82.4,182.2 83.8,181.9 85.1,181.7 86.5,181.5 87.9,181.3 89.2,181.1 90.6,181.0 92.0,180.8 93.4,180.6 94.8,180.5 96.1,180.3 97.5,180.2 98.9,180.1 100.2,179.9 101.6,179.8 103.0,179.7 104.4,179.6 105.8,179.5 107.1,179.4 108.5,179.3 109.9,179.2 111.2,179.1 112.6,179.1 114.0,179.0 115.4,178.9 116.8,178.9 118.1,178.9 119.5,178.8 120.9,178.8 122.2,178.8 123.6,178.8 125.0,178.8 126.4,178.8 127.8,178.9 129.1,178.9 130.5,179.0 131.9,179.1 133.2,179.2 134.6,179.3 136.0,179.4 137.4,179.5 138.8,179.6 140.1,179.8 141.5,179.9 142.9,180.0 144.2,180.2 145.6,180.3 147.0,180.5 148.4,180.7 149.8,180.8 151.1,181.0 152.5,181.2 153.9,181.4 155.2,181.6 156.6,181.8 158.0,182.0 159.4,182.2 160.7,182.4 162.1,182.6 163.5,182.7 164.8,182.9 166.2,183.1 167.6,183.4 169.0,183.6 170.4,183.9 171.8,184.1 173.2,184.4 174.7,184.7 176.1,185.0 177.5,185.3 179.0,185.7 180.5,186.0 182.0,186.4 183.6,186.8 185.1,187.2 186.7,187.6 188.3,188.0 189.9,188.4 191.5,188.9 193.0,189.3 194.5,189.7 196.0,190.2 197.5,190.6 199.0,191.1 200.5,191.6 202.0,192.0 203.5,192.5 205.0,193.0 206.5,193.5 208.0,194.0 209.6,194.5 211.1,195.0 212.6,195.5 214.1,196.0 215.6,196.6 217.0,197.1 218.4,197.6 219.7,198.2 221.0,198.8 222.3,199.3 223.6,199.9 224.8,200.5 226.1,201.0 227.4,201.6 228.6,202.1 229.8,202.6 230.9,203.0 232.0,203.4 233.2,203.9 234.6,204.4 236.2,205.1 238.0,205.9 240.2,206.9 242.6,208.0 245.2,209.3 247.9,210.6 250.8,211.9 253.7,213.3 256.6,214.7 259.5,216.1 262.4,217.5 265.3,218.8 268.2,220.2 271.2,221.7 274.2,223.1 277.2,224.5 280.1,225.9 283.0,227.2 285.9,228.5 288.8,229.9 291.8,231.3 294.7,232.6 297.5,233.9 300.2,235.1 302.7,236.2 305.0,237.2 307.0,238.0 308.8,238.7 310.3,239.4 311.8,239.9 313.1,240.4 314.4,240.8 315.7,241.3 317.0,241.7 318.4,242.2 319.7,242.6 321.0,243.0 322.3,243.4 323.6,243.7 324.8,244.1 325.9,244.4 327.0,244.6 328.0,244.8 329.0,244.9 329.9,245.1 330.8,245.1 331.6,245.2 332.4,245.2 333.2,245.3 334.0,245.3 334.8,245.3 335.6,245.3 336.4,245.3 337.1,245.3 337.9,245.3 338.6,245.3 339.3,245.2 340.0,245.2 340.7,245.2 341.3,245.1 342.0,245.1 342.6,245.1 343.2,245.0 343.8,244.9 344.4,244.9 345.0,244.8 345.5,244.7 346.1,244.6 346.6,244.5 347.1,244.4 347.5,244.3 348.0,244.1 348.5,244.0 349.0,243.8 349.5,243.6 350.0,243.4 350.5,243.2 351.0,243.0 351.5,242.8 352.0,242.5 352.5,242.3 353.0,242.0 353.5,241.7 353.9,241.4 354.3,241.0 354.8,240.7 355.2,240.3 355.6,240.0 356.1,239.6 356.5,239.2 356.9,238.8 357.4,238.4 357.8,238.1 358.3,237.7 358.7,237.3 359.1,236.9 359.6,236.4 360.0,236.0 360.4,235.5 360.9,235.1 361.3,234.6 361.7,234.1 362.2,233.6 362.6,233.1 363.0,232.6 363.4,232.0 363.8,231.4 364.2,230.8 364.6,230.2 365.0,229.6 365.4,229.0 365.8,228.3 366.1,227.7 366.5,227.0 366.9,226.3 367.2,225.7 367.5,225.0 367.9,224.4 368.2,223.7 368.5,222.9 368.9,222.1 369.2,221.2 369.5,220.2 369.9,219.2 370.3,218.0 370.6,216.9 371.0,215.7 371.3,214.4 371.7,213.2 372.0,212.0 372.3,210.8 372.6,209.6 372.9,208.3 373.1,207.1 373.4,205.8 373.7,204.5 373.9,203.3 374.2,202.0 374.5,200.8 374.7,199.5 375.0,198.2 375.2,197.0 375.5,195.8 375.7,194.5 376.0,193.2 376.2,192.0 376.4,190.8 376.7,189.5 376.9,188.2 377.1,187.0 377.3,185.8 377.5,184.5 377.7,183.2 377.9,182.0 378.1,180.8 378.3,179.6 378.5,178.5 378.7,177.4 378.9,176.2 379.1,174.9 379.2,173.5 379.4,172.0 379.6,170.2 379.7,168.0 379.9,165.7 380.0,163.4 380.1,161.1 380.2,159.0 380.3,157.3 380.4,156.0" fill="none" stroke="#ff0000" stroke-width="0.95" stroke-linejoin="round"/>
<path d="M380.5 28.2V298.5" stroke="#000" stroke-width="1" fill="none"/>
<path d="M40.0 4.30L400.0 -175.70M40.0 8.90L400.0 -171.10M40.0 13.50L400.0 -166.50M40.0 18.10L400.0 -161.90M40.0 22.70L400.0 -157.30M40.0 27.30L400.0 -152.70M40.0 31.90L400.0 -148.10M40.0 36.50L400.0 -143.50M40.0 41.10L400.0 -138.90M40.0 45.70L400.0 -134.30M40.0 50.30L400.0 -129.70M40.0 54.90L400.0 -125.10M40.0 59.50L400.0 -120.50M40.0 64.10L400.0 -115.90M40.0 68.70L400.0 -111.30M40.0 73.30L400.0 -106.70M40.0 77.90L400.0 -102.10M40.0 82.50L400.0 -97.50M40.0 87.10L400.0 -92.90M40.0 91.70L400.0 -88.30M40.0 96.30L400.0 -83.70M40.0 100.90L400.0 -79.10M40.0 105.50L400.0 -74.50M40.0 110.10L400.0 -69.90M40.0 114.70L400.0 -65.30M40.0 119.30L400.0 -60.70M40.0 123.90L400.0 -56.10M40.0 128.50L400.0 -51.50M40.0 133.10L400.0 -46.90M40.0 137.70L400.0 -42.30M40.0 142.30L400.0 -37.70M40.0 146.90L400.0 -33.10M40.0 151.50L400.0 -28.50M40.0 156.10L400.0 -23.90M40.0 160.70L400.0 -19.30M40.0 165.30L400.0 -14.70M40.0 169.90L400.0 -10.10M40.0 174.50L400.0 -5.50M40.0 179.10L400.0 -0.90M40.0 183.70L400.0 3.70M40.0 188.30L400.0 8.30M40.0 192.90L400.0 12.90M40.0 197.50L400.0 17.50M40.0 202.10L400.0 22.10M40.0 206.70L400.0 26.70M40.0 211.30L400.0 31.30M40.0 215.90L400.0 35.90M40.0 220.50L400.0 40.50M40.0 225.10L400.0 45.10M40.0 229.70L400.0 49.70M40.0 234.30L400.0 54.30M40.0 238.90L400.0 58.90M40.0 243.50L400.0 63.50M40.0 248.10L400.0 68.10M40.0 252.70L400.0 72.70M40.0 257.30L400.0 77.30M40.0 261.90L400.0 81.90M40.0 266.50L400.0 86.50M40.0 271.10L400.0 91.10M40.0 275.70L400.0 95.70M40.0 280.30L400.0 100.30M40.0 284.90L400.0 104.90M40.0 289.50L400.0 109.50M40.0 294.10L400.0 114.10M40.0 298.70L400.0 118.70M40.0 303.30L400.0 123.30M40.0 307.90L400.0 127.90M40.0 312.50L400.0 132.50M40.0 317.10L400.0 137.10M40.0 321.70L400.0 141.70M40.0 326.30L400.0 146.30M40.0 330.90L400.0 150.90M40.0 335.50L400.0 155.50M40.0 340.10L400.0 160.10M40.0 344.70L400.0 164.70M40.0 349.30L400.0 169.30M40.0 353.90L400.0 173.90M40.0 358.50L400.0 178.50M40.0 363.10L400.0 183.10M40.0 367.70L400.0 187.70M40.0 372.30L400.0 192.30M40.0 376.90L400.0 196.90M40.0 381.50L400.0 201.50M40.0 386.10L400.0 206.10M40.0 390.70L400.0 210.70M40.0 395.30L400.0 215.30M40.0 399.90L400.0 219.90M40.0 404.50L400.0 224.50M40.0 409.10L400.0 229.10M40.0 413.70L400.0 233.70M40.0 418.30L400.0 238.30M40.0 422.90L400.0 242.90M40.0 427.50L400.0 247.50M40.0 432.10L400.0 252.10M40.0 436.70L400.0 256.70M40.0 441.30L400.0 261.30M40.0 445.90L400.0 265.90M40.0 450.50L400.0 270.50M40.0 455.10L400.0 275.10M40.0 459.70L400.0 279.70M40.0 464.30L400.0 284.30M40.0 468.90L400.0 288.90M40.0 473.50L400.0 293.50M40.0 478.10L400.0 298.10M40.0 482.70L400.0 302.70M40.0 487.30L400.0 307.30M40.0 491.90L400.0 311.90M40.0 496.50L400.0 316.50M40.0 501.10L400.0 321.10M40.0 505.70L400.0 325.70M40.0 510.30L400.0 330.30M40.0 514.90L400.0 334.90M40.0 519.50L400.0 339.50" stroke="#ff0000" stroke-width="0.45" fill="none" clip-path="url(#lr)"/>
<path d="M40.0 -175.80L400.0 4.20M40.0 -171.25L400.0 8.75M40.0 -166.70L400.0 13.30M40.0 -162.15L400.0 17.85M40.0 -157.60L400.0 22.40M40.0 -153.05L400.0 26.95M40.0 -148.50L400.0 31.50M40.0 -143.95L400.0 36.05M40.0 -139.40L400.0 40.60M40.0 -134.85L400.0 45.15M40.0 -130.30L400.0 49.70M40.0 -125.75L400.0 54.25M40.0 -121.20L400.0 58.80M40.0 -116.65L400.0 63.35M40.0 -112.10L400.0 67.90M40.0 -107.55L400.0 72.45M40.0 -103.00L400.0 77.00M40.0 -98.45L400.0 81.55M40.0 -93.90L400.0 86.10M40.0 -89.35L400.0 90.65M40.0 -84.80L400.0 95.20M40.0 -80.25L400.0 99.75M40.0 -75.70L400.0 104.30M40.0 -71.15L400.0 108.85M40.0 -66.60L400.0 113.40M40.0 -62.05L400.0 117.95M40.0 -57.50L400.0 122.50M40.0 -52.95L400.0 127.05M40.0 -48.40L400.0 131.60M40.0 -43.85L400.0 136.15M40.0 -39.30L400.0 140.70M40.0 -34.75L400.0 145.25M40.0 -30.20L400.0 149.80M40.0 -25.65L400.0 154.35M40.0 -21.10L400.0 158.90M40.0 -16.55L400.0 163.45M40.0 -12.00L400.0 168.00M40.0 -7.45L400.0 172.55M40.0 -2.90L400.0 177.10M40.0 1.65L400.0 181.65M40.0 6.20L400.0 186.20M40.0 10.75L400.0 190.75M40.0 15.30L400.0 195.30M40.0 19.85L400.0 199.85M40.0 24.40L400.0 204.40M40.0 28.95L400.0 208.95M40.0 33.50L400.0 213.50M40.0 38.05L400.0 218.05M40.0 42.60L400.0 222.60M40.0 47.15L400.0 227.15M40.0 51.70L400.0 231.70M40.0 56.25L400.0 236.25M40.0 60.80L400.0 240.80M40.0 65.35L400.0 245.35M40.0 69.90L400.0 249.90M40.0 74.45L400.0 254.45M40.0 79.00L400.0 259.00M40.0 83.55L400.0 263.55M40.0 88.10L400.0 268.10M40.0 92.65L400.0 272.65M40.0 97.20L400.0 277.20M40.0 101.75L400.0 281.75M40.0 106.30L400.0 286.30M40.0 110.85L400.0 290.85M40.0 115.40L400.0 295.40M40.0 119.95L400.0 299.95M40.0 124.50L400.0 304.50M40.0 129.05L400.0 309.05M40.0 133.60L400.0 313.60M40.0 138.15L400.0 318.15M40.0 142.70L400.0 322.70M40.0 147.25L400.0 327.25M40.0 151.80L400.0 331.80M40.0 156.35L400.0 336.35M40.0 160.90L400.0 340.90M40.0 165.45L400.0 345.45M40.0 170.00L400.0 350.00M40.0 174.55L400.0 354.55M40.0 179.10L400.0 359.10M40.0 183.65L400.0 363.65M40.0 188.20L400.0 368.20M40.0 192.75L400.0 372.75M40.0 197.30L400.0 377.30M40.0 201.85L400.0 381.85M40.0 206.40L400.0 386.40M40.0 210.95L400.0 390.95M40.0 215.50L400.0 395.50M40.0 220.05L400.0 400.05M40.0 224.60L400.0 404.60M40.0 229.15L400.0 409.15M40.0 233.70L400.0 413.70M40.0 238.25L400.0 418.25M40.0 242.80L400.0 422.80M40.0 247.35L400.0 427.35M40.0 251.90L400.0 431.90M40.0 256.45L400.0 436.45M40.0 261.00L400.0 441.00M40.0 265.55L400.0 445.55M40.0 270.10L400.0 450.10M40.0 274.65L400.0 454.65M40.0 279.20L400.0 459.20M40.0 283.75L400.0 463.75M40.0 288.30L400.0 468.30M40.0 292.85L400.0 472.85M40.0 297.40L400.0 477.40M40.0 301.95L400.0 481.95M40.0 306.50L400.0 486.50M40.0 311.05L400.0 491.05M40.0 315.60L400.0 495.60M40.0 320.15L400.0 500.15M40.0 324.70L400.0 504.70M40.0 329.25L400.0 509.25M40.0 333.80L400.0 513.80M40.0 338.35L400.0 518.35" stroke="#0000ff" stroke-width="0.45" fill="none" clip-path="url(#lb)"/>
<rect x="173.7" y="50.2" width="52.6" height="9.7" fill="none" stroke="#ff0000" stroke-width="1"/>
<rect x="173.7" y="72.1" width="52.6" height="10" fill="none" stroke="#0000ff" stroke-width="1"/>
</svg>
<div class="t" style="left:138.3px;top:7.7px;font-size:14.5px;transform-origin:0 50%;transform:scaleX(1.225);"><span style="font-weight:normal">&mu;</span>=3 GeV, N<span style="font-size:10px;position:relative;top:4.2px;">F</span>=3</div>
<div class="t yl" style="top:22.6px">2.5</div>
<div class="t yl" style="top:49.6px">2.25</div>
<div class="t yl" style="top:76.6px">2</div>
<div class="t yl" style="top:103.7px">1.75</div>
<div class="t yl" style="top:130.8px">1.5</div>
<div class="t yl" style="top:157.8px">1.25</div>
<div class="t yl" style="top:184.9px">1</div>
<div class="t yl" style="top:211.9px">0.75</div>
<div class="t yl" style="top:239.0px">0.5</div>
<div class="t yl" style="top:266.0px">0.25</div>
<div class="t yl" style="top:293.1px">0</div>
<div class="t xl" style="left:46.3px;top:305.8px">10</div>
<div class="t xe" style="left:64.5px;top:301.0px">-4</div>
<div class="t xl" style="left:133.4px;top:305.8px">10</div>
<div class="t xe" style="left:151.6px;top:301.0px">-3</div>
<div class="t xl" style="left:220.4px;top:305.8px">10</div>
<div class="t xe" style="left:238.6px;top:301.0px">-2</div>
<div class="t xl" style="left:307.4px;top:305.8px">10</div>
<div class="t xe" style="left:325.6px;top:301.0px">-1</div>
<div class="t" style="left:371.8px;top:314px;font-size:15px;transform-origin:0 50%;transform:scaleX(1.3)">x</div>
<div class="t" style="left:240px;top:50.4px;font-size:10px;color:#ff0000;transform-origin:0 50%;transform:scaleX(1.145)">ABM16upd</div>
<div class="t" style="left:240px;top:72.4px;font-size:10px;color:#0000ff;transform-origin:0 50%;transform:scaleX(1.145)">ABMP16</div>
<div class="t" style="left:21.8px;top:219.8px;font-size:16.5px;transform-origin:0 0;transform:rotate(-90deg) translate(0,-100%) scaleX(0.9);">[s(x,<span style="font-weight:normal">&mu;</span>)+ <span class="ob" style="margin-left:-0.8px">s<i style="left:3.6px"></i></span>(x,<span style="font-weight:normal">&mu;</span>)]/[<span class="ob" style="margin-left:0px">u<i style="left:3.2px"></i></span>(x,<span style="font-weight:normal">&mu;</span>)<span style="margin-left:1.4px">+</span> <span class="ob" style="margin-left:0px">d<i style="left:1.3px"></i></span>(x,<span style="font-weight:normal">&mu;</span>)]</div>
</div></body></html>
